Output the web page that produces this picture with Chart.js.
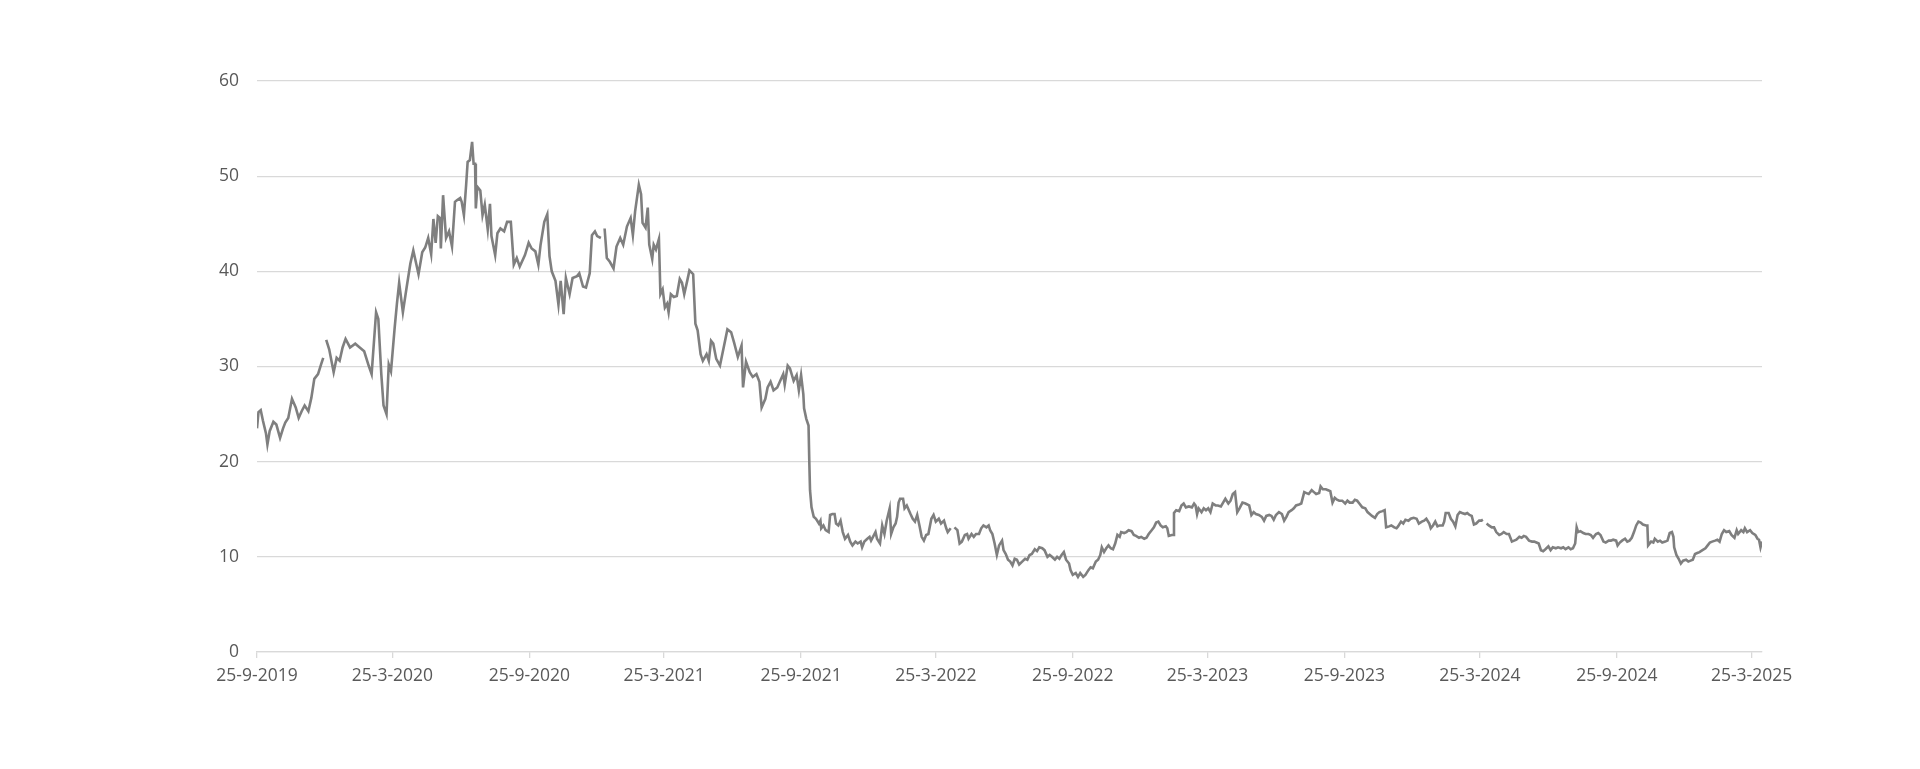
<!DOCTYPE html>
<html>
<head>
<meta charset="utf-8">
<script src="https://cdn.jsdelivr.net/npm/chart.js@4"></script>
<style>
  html, body { margin: 0; padding: 0; background: #fff; }
  canvas { display: block; }
</style>
</head>
<body>
<canvas id="priceChart" width="1920" height="769"></canvas>
<script>
// first trading day of the series; x values are days since this date
const startDate = '25-9-2019';

const tickLabels = ['25-9-2019', '25-3-2020', '25-9-2020', '25-3-2021', '25-9-2021', '25-3-2022',
                    '25-9-2022', '25-3-2023', '25-9-2023', '25-3-2024', '25-9-2024', '25-3-2025'];

const dayOffsets = [
    0, 2, 5, 8, 12, 14, 17, 22, 26, 31,
    35, 38, 42, 47, 52, 56, 60, 64, 69, 73,
    77, 82, 86, 89, 91, 93, 97, 103, 107, 111,
    115, 119, 125, 132, 138, 144, 150, 154, 160, 163,
    167, 170, 174, 177, 180, 185, 188, 191, 196, 201,
    206, 210, 217, 222, 226, 230, 234, 237, 240, 243,
    246, 247, 250, 254, 258, 262, 266, 269, 273, 275,
    278, 281, 283, 286, 289, 291, 293, 294, 296, 300,
    303, 306, 310, 313, 315, 320, 323, 327, 332, 336,
    341, 345, 349, 353, 360, 365, 369, 374, 378, 381,
    386, 390, 393, 396, 401, 405, 408, 412, 415, 420,
    424, 430, 433, 438, 442, 447, 450, 454, 457, 462,
    464, 467, 470, 474, 479, 483, 488, 492, 497, 502,
    505, 508, 513, 516, 518, 522, 525, 527, 531, 533,
    536, 540, 542, 545, 548, 551, 553, 556, 560, 564,
    568, 571, 574, 578, 581, 586, 589, 592, 596, 599,
    604, 607, 610, 613, 617, 622, 627, 632, 637, 641,
    646, 651, 653, 657, 662, 666, 671, 675, 678, 683,
    686, 690, 694, 699, 703, 707, 709, 713, 716, 721,
    725, 728, 731, 734, 735, 738, 741, 742, 743, 745,
    748, 751, 755, 757, 758, 761, 764, 768, 770, 773,
    776, 778, 781, 784, 787, 790, 794, 797, 800, 804,
    807, 811, 813, 816, 820, 823, 825, 829, 831, 833,
    837, 840, 843, 846, 850, 852, 855, 858, 860, 862,
    864, 868, 870, 873, 878, 881, 884, 887, 890, 893,
    896, 899, 902, 906, 909, 912, 916, 919, 923, 926,
    928, 932, 934, 937, 941, 944, 947, 951, 954, 956,
    960, 963, 966, 970, 973, 976, 980, 983, 985, 988,
    991, 994, 997, 1001, 1003, 1006, 1009, 1012, 1015, 1018,
    1021, 1024, 1028, 1032, 1035, 1038, 1041, 1045, 1048, 1051,
    1055, 1058, 1062, 1065, 1068, 1072, 1075, 1078, 1081, 1084,
    1087, 1091, 1093, 1096, 1100, 1103, 1106, 1110, 1113, 1117,
    1120, 1123, 1127, 1130, 1133, 1135, 1138, 1141, 1144, 1147,
    1150, 1153, 1156, 1159, 1161, 1165, 1168, 1171, 1175, 1178,
    1181, 1185, 1188, 1192, 1195, 1198, 1202, 1205, 1208, 1211,
    1214, 1217, 1221, 1223, 1225, 1229, 1231, 1232, 1235, 1239,
    1242, 1245, 1248, 1252, 1256, 1259, 1261, 1263, 1265, 1269,
    1272, 1275, 1278, 1281, 1284, 1288, 1291, 1295, 1298, 1301,
    1305, 1308, 1311, 1314, 1317, 1320, 1324, 1328, 1333, 1336,
    1339, 1342, 1346, 1350, 1353, 1356, 1360, 1363, 1366, 1369,
    1373, 1377, 1380, 1383, 1386, 1390, 1393, 1396, 1400, 1403,
    1407, 1410, 1413, 1417, 1420, 1423, 1427, 1429, 1432, 1436,
    1439, 1442, 1445, 1448, 1451, 1454, 1458, 1462, 1465, 1468,
    1472, 1475, 1478, 1481, 1485, 1489, 1492, 1495, 1498, 1502,
    1505, 1508, 1512, 1515, 1517, 1521, 1524, 1528, 1531, 1533,
    1537, 1540, 1543, 1547, 1550, 1554, 1558, 1561, 1565, 1568,
    1571, 1575, 1577, 1580, 1583, 1586, 1589, 1593, 1595, 1597,
    1601, 1604, 1607, 1610, 1613, 1616, 1619, 1623, 1626, 1629,
    1632, 1635, 1638, 1642, 1645, 1647, 1649, 1652, 1655, 1659,
    1662, 1665, 1669, 1672, 1675, 1679, 1682, 1686, 1689, 1692,
    1696, 1699, 1702, 1705, 1709, 1713, 1716, 1719, 1722, 1725,
    1728, 1731, 1735, 1738, 1741, 1745, 1748, 1752, 1755, 1758,
    1762, 1765, 1768, 1771, 1773, 1775, 1778, 1782, 1785, 1789,
    1792, 1795, 1799, 1802, 1805, 1809, 1812, 1816, 1819, 1822,
    1826, 1828, 1831, 1834, 1838, 1841, 1844, 1847, 1850, 1853,
    1856, 1859, 1862, 1866, 1868, 1869, 1873, 1876, 1878, 1882,
    1885, 1888, 1892, 1895, 1898, 1901, 1903, 1904, 1907, 1910,
    1913, 1916, 1920, 1923, 1926, 1929, 1932, 1935, 1938, 1942,
    1946, 1949, 1952, 1955, 1959, 1962, 1965, 1968, 1971, 1974,
    1978, 1981, 1985, 1988, 1990, 1994, 1997, 1999, 2002, 2006,
    2009, 2013, 2016, 2018, 2020, 2022
];

// null = no quote (line break)
const prices = [
    23.5, 25.2, 25.4, 24.3, 23.0, 21.8, 23.2, 24.2, 23.9, 22.5,
    23.5, 24.1, 24.6, 26.6, 25.7, 24.6, 25.3, 25.9, 25.3, 26.7,
    28.7, 29.2, 30.2, 30.9, null, 32.8, 31.8, 29.4, 30.9, 30.6,
    32.0, 32.9, 32.0, 32.4, 32.0, 31.6, 30.1, 29.2, 35.7, 35.0,
    29.2, 25.9, 25.0, 30.2, 29.5, 34.1, 36.6, 38.8, 35.7, 38.3,
    40.8, 42.2, 39.7, 42.0, 42.5, 43.5, 41.8, 45.5, 43.0, 45.8,
    45.6, 42.4, 48.0, 43.5, 44.2, 42.6, 47.3, 47.5, 47.7, 47.3,
    45.9, 49.1, 51.5, 51.7, 53.6, 51.3, 51.3, 46.6, 48.9, 48.5,
    45.9, 47.0, 44.4, 47.1, 43.7, 41.7, 44.0, 44.5, 44.2, 45.2,
    45.2, 40.7, 41.4, 40.5, 41.7, 43.0, 42.4, 42.1, 40.7, 42.8,
    45.2, 46.0, 41.6, 40.0, 39.0, 36.5, 39.0, 35.5, 39.3, 37.6,
    39.3, 39.5, 39.8, 38.4, 38.3, 39.8, 43.8, 44.2, 43.7, 43.5,
    null, 44.5, 41.4, 41.0, 40.3, 42.6, 43.5, 42.8, 44.7, 45.6,
    43.8, 46.3, 49.1, 48.1, 45.1, 44.6, 46.7, 42.8, 41.3, 42.8,
    42.3, 43.4, 37.6, 38.1, 36.2, 36.6, 35.7, 37.6, 37.3, 37.4,
    39.2, 38.8, 37.6, 39.0, 40.1, 39.7, 34.5, 33.8, 31.3, 30.6,
    31.3, 30.6, 32.7, 32.4, 30.8, 30.1, 32.0, 33.9, 33.6, 32.5,
    31.0, 32.2, 27.8, 30.5, 29.4, 28.9, 29.2, 28.4, 25.7, 26.6,
    27.8, 28.4, 27.5, 27.8, 28.5, 29.2, 28.1, 30.1, 29.8, 28.5,
    29.1, 27.5, 29.1, 27.1, 25.6, 24.5, 23.8, 20.1, 17.0, 15.2,
    14.2, 14.0, 13.5, 13.8, 13.0, 13.3, 12.8, 12.6, 14.4, 14.5,
    14.5, 13.5, 13.3, 13.8, 12.6, 11.9, 12.3, 11.6, 11.2, 11.6,
    11.4, 11.6, 11.0, 11.6, 11.9, 12.1, 11.7, 12.3, 12.6, 11.9,
    11.4, 13.3, 12.4, 13.8, 15.1, 12.4, 13.1, 13.5, 14.2, 15.7,
    16.1, 16.1, 15.1, 15.4, 14.5, 14.0, 13.7, 14.4, 13.3, 12.1,
    11.7, 12.3, 12.4, 14.0, 14.4, 13.7, 14.0, 13.5, 13.8, 13.0,
    12.6, 13.0, null, 13.1, 12.8, 11.4, 11.6, 12.3, 12.4, 11.9,
    12.4, 12.1, 12.4, 12.4, 13.0, 13.3, 13.1, 13.3, 12.8, 12.4,
    11.4, 10.2, 11.2, 11.7, 10.7, 10.3, 9.7, 9.5, 9.1, 9.8,
    9.7, 9.2, 9.5, 9.8, 9.7, 10.2, 10.3, 10.8, 10.6, 11.0,
    10.9, 10.7, 10.0, 10.2, 10.0, 9.7, 10.0, 9.8, 10.2, 10.5,
    9.7, 9.3, 8.6, 8.1, 8.3, 7.9, 8.3, 7.9, 8.1, 8.6,
    8.9, 8.8, 9.5, 9.7, 10.2, 11.0, 10.5, 10.9, 11.2, 10.9,
    10.8, 11.4, 12.3, 12.1, 12.6, 12.5, 12.6, 12.8, 12.7, 12.3,
    12.2, 12.0, 12.1, 11.9, 12.0, 12.4, 12.8, 13.1, 13.6, 13.7,
    13.3, 13.1, 13.2, 13.0, 12.2, 12.3, 12.3, 14.6, 14.9, 14.8,
    15.4, 15.6, 15.2, 15.3, 15.2, 15.6, 15.4, 14.5, 15.1, 14.7,
    15.1, 14.9, 15.1, 14.7, 15.6, 15.4, 15.4, 15.3, 15.7, 16.1,
    15.6, 15.9, 16.6, 16.8, 14.7, 15.1, 15.7, 15.6, 15.4, 14.4,
    14.7, 14.5, 14.4, 14.2, 13.8, 14.3, 14.4, 14.3, 13.9, 14.4,
    14.7, 14.5, 13.8, 14.2, 14.7, 14.9, 15.1, 15.4, 15.5, 15.6,
    16.8, 16.7, 16.6, 17.0, 16.8, 16.6, 16.7, 17.4, 17.1, 17.1,
    17.0, 16.9, 15.7, 16.2, 16.0, 15.9, 15.9, 15.6, 15.9, 15.7,
    15.7, 16.0, 15.9, 15.6, 15.2, 15.1, 14.7, 14.5, 14.3, 14.1,
    14.5, 14.7, 14.8, 14.9, 13.1, 13.2, 13.3, 13.1, 13.0, 13.2,
    13.7, 13.5, 13.9, 13.8, 14.0, 14.1, 14.0, 13.5, 13.7, 13.8,
    14.0, 13.5, 13.0, 13.3, 13.7, 13.2, 13.3, 13.3, 13.7, 14.6,
    14.6, 14.0, 13.7, 13.2, 14.4, 14.7, 14.6, 14.5, 14.6, 14.4,
    14.3, 13.4, 13.5, 13.8, 13.8, 13.9, null, 13.5, 13.3, 13.1,
    13.1, 12.6, 12.3, 12.4, 12.6, 12.4, 12.4, 11.6, 11.7, 11.8,
    12.1, 12.0, 12.2, 12.1, 11.7, 11.6, 11.6, 11.5, 11.4, 10.7,
    10.6, 10.8, 11.1, 10.7, 11.0, 10.9, 11.0, 10.9, 11.0, 10.8,
    11.0, 10.8, 10.9, 11.4, 13.1, 12.6, 12.7, 12.5, 12.4, 12.4,
    12.3, 12.0, 12.4, 12.5, 12.3, 11.6, 11.5, 11.7, 11.7, 11.8,
    11.7, 11.2, 11.5, 11.7, 11.9, 11.6, 11.7, 12.0, 12.6, 13.3,
    13.7, 13.6, 13.4, 13.3, 13.3, 11.2, 11.6, 11.5, 11.9, 11.6,
    11.7, 11.5, 11.6, 11.7, 12.5, 12.6, 12.1, 11.0, 10.2, 9.8,
    9.3, 9.6, 9.7, 9.5, 9.6, 9.7, 10.3, 10.4, 10.5, 10.7,
    10.9, 11.2, 11.5, 11.6, 11.7, 11.8, 11.6, 12.4, 12.8, 12.6,
    12.7, 12.3, 12.0, 12.8, 12.4, 12.8, 12.6, 13.0, 12.6, 12.8,
    12.5, 12.3, 11.9, 11.8, 11.0, 11.6
];

function parseDate(s) {
    const [d, m, y] = s.split('-').map(Number);
    return Date.UTC(y, m - 1, d);
}
function daysFromStart(s) {
    return Math.round((parseDate(s) - parseDate(startDate)) / 86400000);
}

const tickDays  = tickLabels.map(daysFromStart);
const labelByDay = {};
tickDays.forEach((d, i) => { labelByDay[d] = tickLabels[i]; });

const points = dayOffsets.map((d, i) => ({ x: d, y: prices[i] }));

const textColor = '#595959';
const gridColor = '#d9d9d9';
const tickFont  = { family: '"Open Sans", "Noto Sans", sans-serif', size: 17.5 };

new Chart(document.getElementById('priceChart').getContext('2d'), {
    type: 'line',
    data: {
        datasets: [{
            data: points,
            borderColor: '#7f7f7f',
            borderWidth: 2.6,
            pointRadius: 0,
            tension: 0,
            spanGaps: false,
            fill: false
        }]
    },
    options: {
        responsive: false,
        animation: false,
        devicePixelRatio: 1,
        parsing: false,
        layout: { padding: { left: 0, top: 81, right: 158, bottom: 0 } },
        plugins: { legend: { display: false }, tooltip: { enabled: false } },
        scales: {
            x: {
                type: 'linear',
                min: 0,
                max: dayOffsets[dayOffsets.length - 1],
                afterBuildTicks: scale => { scale.ticks = tickDays.map(v => ({ value: v })); },
                afterFit: scale => { scale.height = 769 - 652; },
                grid: { drawOnChartArea: false, drawTicks: true, tickLength: 6, color: gridColor, lineWidth: 1.3 },
                border: { display: true, color: gridColor, width: 1.3 },
                ticks: {
                    autoSkip: false, maxRotation: 0, padding: 8,
                    color: textColor, font: tickFont,
                    callback: v => labelByDay[v] || ''
                }
            },
            y: {
                min: 0, max: 60,
                afterFit: scale => { scale.width = 257; },
                grid: { color: gridColor, lineWidth: 1.3, drawTicks: false },
                border: { display: false },
                ticks: { stepSize: 10, padding: 18, color: textColor, font: tickFont }
            }
        }
    }
});
</script>
</body>
</html>
